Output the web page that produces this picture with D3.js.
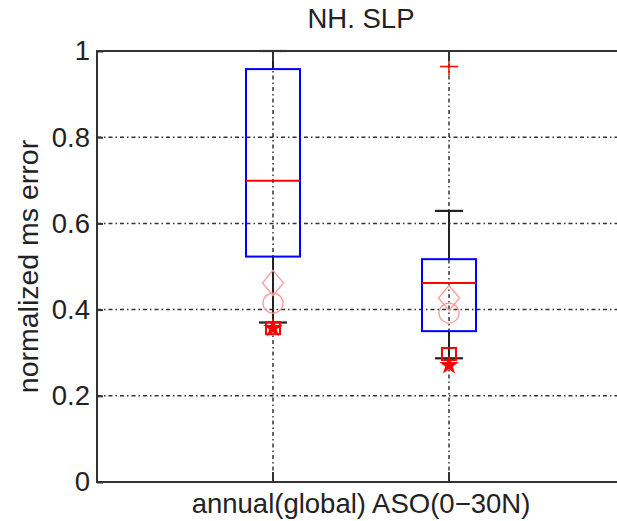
<!DOCTYPE html>
<html>
<head>
<meta charset="utf-8">
<script src="https://cdn.jsdelivr.net/npm/d3@7"></script>
<style>
  body { margin: 0; background: #fff; }
  text { font-family: "Liberation Sans", Arial, sans-serif; fill: #222; }
</style>
</head>
<body>
<svg width="617" height="521"></svg>
<script>
const categories = ['annual(global)', 'ASO(0\u221230N)']
const positions = [1, 2]
const q1 = [0.523, 0.350]
const median = [0.699, 0.462]
const q3 = [0.958, 0.517]
const whiskerLow = [0.370, 0.287]
const whiskerHigh = [1.0, 0.629]
const outliers = [[], [0.964]]
// extra model markers drawn on top of each box
const diamondVals = [0.462, 0.427]
const circleVals = [0.415, 0.392]
const squareVals = [0.357, 0.297]
const starVals = [0.357, 0.271]
const yTicks = [0, 0.2, 0.4, 0.6, 0.8, 1]

const svg = d3.select('svg'),
    margin = {top: 51, right: -8, bottom: 39, left: 97},
    width = svg.attr('width') - margin.left - margin.right,
    height = svg.attr('height') - margin.top - margin.bottom,
    x = d3.scaleLinear().domain([0, 3]).range([0, width]),
    y = d3.scaleLinear().domain([0, 1]).range([height, 0]),
    g = svg.append('g')
        .attr('transform', `translate(${margin.left}, ${margin.top})`);

const boxHalf = 27, capHalf = 14
const gridDash = '4,3,1.5,3'

// grid
g.selectAll('.hgrid')
    .data(yTicks.filter(d => d > 0 && d < 1))
    .enter().append('line')
    .attr('x1', 0).attr('x2', width)
    .attr('y1', d => y(d)).attr('y2', d => y(d))
    .attr('stroke', '#333').attr('stroke-width', 1.5)
    .attr('stroke-dasharray', gridDash)
g.selectAll('.vgrid')
    .data(positions)
    .enter().append('line')
    .attr('x1', d => x(d)).attr('x2', d => x(d))
    .attr('y1', height).attr('y2', 0)
    .attr('stroke', '#333').attr('stroke-width', 1.5)
    .attr('stroke-dasharray', gridDash)

// whiskers
positions.forEach((p, i) => {
    const cx = x(p)
    g.append('line').attr('x1', cx).attr('x2', cx)
        .attr('y1', y(q3[i])).attr('y2', y(whiskerHigh[i]))
        .attr('stroke', '#222').attr('stroke-width', 2)
    g.append('line').attr('x1', cx).attr('x2', cx)
        .attr('y1', y(q1[i])).attr('y2', y(whiskerLow[i]))
        .attr('stroke', '#222').attr('stroke-width', 2)
    g.append('line').attr('x1', cx - capHalf).attr('x2', cx + capHalf)
        .attr('y1', y(whiskerHigh[i])).attr('y2', y(whiskerHigh[i]))
        .attr('stroke', '#222').attr('stroke-width', 2.2)
    g.append('line').attr('x1', cx - capHalf).attr('x2', cx + capHalf)
        .attr('y1', y(whiskerLow[i])).attr('y2', y(whiskerLow[i]))
        .attr('stroke', '#222').attr('stroke-width', 2.2)
})

// boxes
g.selectAll('.box')
    .data(positions)
    .enter().append('rect')
    .attr('x', d => x(d) - boxHalf)
    .attr('y', (d, i) => y(q3[i]))
    .attr('width', boxHalf * 2)
    .attr('height', (d, i) => y(q1[i]) - y(q3[i]))
    .attr('fill', 'none').attr('stroke', '#0000ff').attr('stroke-width', 2)
g.selectAll('.median')
    .data(positions)
    .enter().append('line')
    .attr('x1', d => x(d) - boxHalf).attr('x2', d => x(d) + boxHalf)
    .attr('y1', (d, i) => y(median[i])).attr('y2', (d, i) => y(median[i]))
    .attr('stroke', '#ff0000').attr('stroke-width', 2)

// outliers
positions.forEach((p, i) => {
    outliers[i].forEach(v => {
        g.append('path')
            .attr('d', d3.symbol(d3.symbolCross2 || d3.symbolPlus, 110)())
            .attr('transform', `translate(${x(p)}, ${y(v)})`)
            .attr('fill', 'none').attr('stroke', '#ff0000').attr('stroke-width', 1.5)
    })
})

// markers
const lightRed = '#ff9a9a'
g.selectAll('.diamond')
    .data(positions)
    .enter().append('path')
    .attr('d', 'M0,-12.5L10.5,0L0,12.5L-10.5,0Z')
    .attr('transform', (d, i) => `translate(${x(d)}, ${y(diamondVals[i])})`)
    .attr('fill', 'none').attr('stroke', lightRed).attr('stroke-width', 1.3)
g.selectAll('.circle')
    .data(positions)
    .enter().append('circle')
    .attr('cx', d => x(d)).attr('cy', (d, i) => y(circleVals[i]))
    .attr('r', 10)
    .attr('fill', 'none').attr('stroke', lightRed).attr('stroke-width', 1.3)
g.selectAll('.square')
    .data(positions)
    .enter().append('rect')
    .attr('x', d => x(d) - 7).attr('y', (d, i) => y(squareVals[i]) - 6)
    .attr('width', 14).attr('height', 12)
    .attr('fill', 'none').attr('stroke', '#ff0000').attr('stroke-width', 2)
g.selectAll('.star')
    .data(positions)
    .enter().append('path')
    .attr('d', d3.symbol(d3.symbolStar, 120)())
    .attr('transform', (d, i) => `translate(${x(d)}, ${y(starVals[i])})`)
    .attr('fill', '#ff0000')

// frame and ticks
g.append('rect')
    .attr('x', 0).attr('y', 0).attr('width', width).attr('height', height)
    .attr('fill', 'none').attr('stroke', '#333').attr('stroke-width', 2)
g.selectAll('.xtick')
    .data(positions)
    .enter().append('line')
    .attr('x1', d => x(d)).attr('x2', d => x(d))
    .attr('y1', height).attr('y2', height - 10)
    .attr('stroke', '#333').attr('stroke-width', 2)
g.selectAll('.xtickTop')
    .data(positions)
    .enter().append('line')
    .attr('x1', d => x(d)).attr('x2', d => x(d))
    .attr('y1', 0).attr('y2', 10)
    .attr('stroke', '#333').attr('stroke-width', 2)

g.append('g')
    .attr('class', 'axis axis-y')
    .call(d3.axisLeft(y).tickValues(yTicks).tickFormat(d3.format('')).tickSize(-6).tickPadding(7))
    .call(a => a.select('.domain').remove())
    .call(a => a.selectAll('line').attr('stroke', '#333').attr('stroke-width', 2))
    .call(a => a.selectAll('text').attr('font-size', 27.5).attr('fill', '#222')
        .attr('font-family', '"Liberation Sans", Arial, sans-serif'))

// labels
svg.append('text')
    .attr('x', margin.left + width / 2).attr('y', 28)
    .attr('text-anchor', 'middle').attr('font-size', 27.5)
    .text('NH. SLP')
svg.append('text')
    .attr('x', margin.left + width / 2).attr('y', 513)
    .attr('text-anchor', 'middle').attr('font-size', 27.5)
    .text(categories.join(' '))
svg.append('text')
    .attr('transform', `translate(38, ${margin.top + height / 2}) rotate(-90)`)
    .attr('text-anchor', 'middle').attr('font-size', 28.5)
    .text('normalized ms error')
</script>
</body>
</html>
